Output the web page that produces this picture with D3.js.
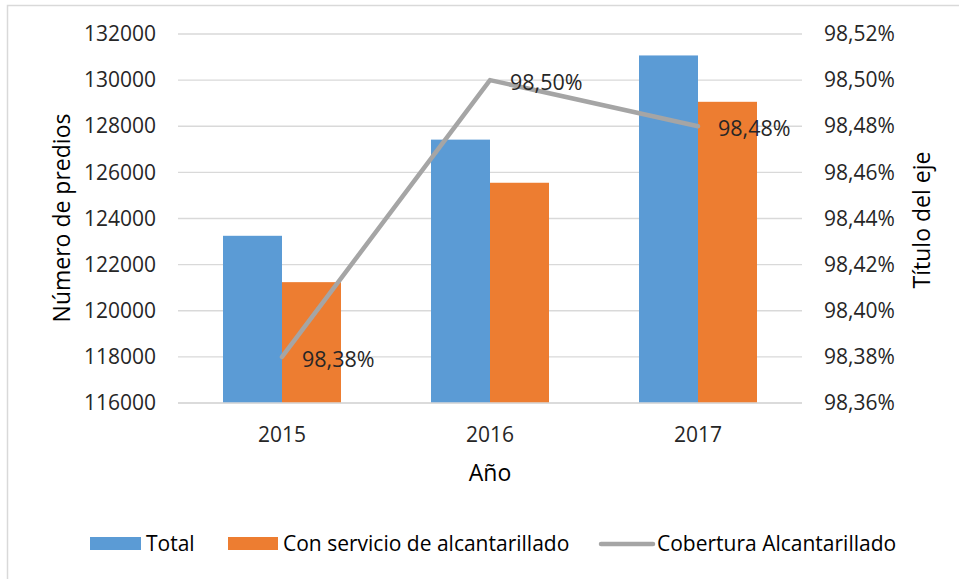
<!DOCTYPE html>
<html>
<head>
<meta charset="utf-8">
<script src="https://cdn.jsdelivr.net/npm/d3@7"></script>
<style>
  html, body { margin: 0; padding: 0; background: #fff; }
  svg { display: block; font-family: "Open Sans", "Noto Sans", sans-serif; }
</style>
</head>
<body>
<svg id="chart" width="959" height="579"></svg>
<script>
// Años y series
const years = ["2015", "2016", "2017"];
const totalPredios = [123250, 127420, 131070];
const conServicio = [121240, 125550, 129060];
const cobertura = [0.9838, 0.9850, 0.9848];
const coberturaLabels = ["98,38%", "98,50%", "98,48%"];
const leftTicks = [116000, 118000, 120000, 122000, 124000, 126000, 128000, 130000, 132000];
const rightTicks = [0.9836, 0.9838, 0.9840, 0.9842, 0.9844, 0.9846, 0.9848, 0.9850, 0.9852];
const seriesNames = ["Total", "Con servicio de alcantarillado", "Cobertura Alcantarillado"];

const colors = { total: "#5B9BD5", servicio: "#ED7D31", cobertura: "#A5A5A5" };
const textColor = "#262626";
const gridColor = "#D9D9D9";

const svg = d3.select("#chart");

// Marco exterior del gráfico
svg.append("rect")
  .attr("x", 7.5).attr("y", 5.5)
  .attr("width", 1000).attr("height", 1000)
  .attr("fill", "none").attr("stroke", gridColor).attr("stroke-width", 1.5);

const plot = { left: 178, right: 802, top: 34, bottom: 403 };

const pad = 90 / 208;
const x0 = d3.scaleBand().domain(years)
  .range([plot.left, plot.right])
  .paddingInner(pad).paddingOuter(pad / 2);
const x1 = d3.scaleBand().domain(["total", "servicio"]).range([0, x0.bandwidth()]);

const yL = d3.scaleLinear().domain([116000, 132000]).range([plot.bottom, plot.top]);
const yR = d3.scaleLinear().domain([0.9836, 0.9852]).range([plot.bottom, plot.top]);

// Líneas de cuadrícula
svg.append("g")
  .selectAll("line").data(leftTicks).join("line")
  .attr("x1", plot.left).attr("x2", plot.right)
  .attr("y1", d => yL(d)).attr("y2", d => yL(d))
  .attr("stroke", gridColor).attr("stroke-width", 1.3);

// Eje izquierdo
const fmtL = d3.format("d");
const axisL = svg.append("g")
  .attr("transform", `translate(${plot.left - 22},0)`)
  .call(d3.axisLeft(yL).tickValues(leftTicks).tickFormat(fmtL).tickSize(0).tickPadding(0));
axisL.select(".domain").remove();
axisL.selectAll("text")
  .attr("fill", textColor).style("font-size", "21px")
  .style("font-family", "'Open Sans', sans-serif");

// Eje derecho
const fmtR = d => (d * 100).toFixed(2).replace(".", ",") + "%";
const axisR = svg.append("g")
  .attr("transform", `translate(${plot.right + 22},0)`)
  .call(d3.axisRight(yR).tickValues(rightTicks).tickFormat(fmtR).tickSize(0).tickPadding(0));
axisR.select(".domain").remove();
axisR.selectAll("text")
  .attr("fill", textColor).style("font-size", "21px")
  .style("font-family", "'Open Sans', sans-serif");

// Barras
const rows = years.map((y, i) => ({ year: y, total: totalPredios[i], servicio: conServicio[i] }));
const groups = svg.append("g").selectAll("g").data(rows).join("g")
  .attr("transform", d => `translate(${x0(d.year)},0)`);
groups.selectAll("rect")
  .data(d => ["total", "servicio"].map(k => ({ key: k, value: d[k] })))
  .join("rect")
  .attr("x", d => x1(d.key))
  .attr("width", x1.bandwidth())
  .attr("y", d => yL(d.value))
  .attr("height", d => yL(116000) - yL(d.value))
  .attr("fill", d => colors[d.key]);

// Eje X (línea base y etiquetas)
const axisX = svg.append("g")
  .attr("transform", `translate(0,${plot.bottom})`)
  .call(d3.axisBottom(x0).tickSize(0).tickPadding(0));
axisX.select(".domain")
  .attr("d", `M${plot.left},0H${plot.right}`)
  .attr("stroke", gridColor).attr("stroke-width", 1.5);
axisX.selectAll("text")
  .attr("y", 0).attr("dy", null)
  .attr("transform", "translate(0,39)")
  .attr("fill", textColor).style("font-size", "21px")
  .style("font-family", "'Open Sans', sans-serif");

// Línea de cobertura
const pts = years.map((y, i) => ({ year: y, v: cobertura[i], label: coberturaLabels[i] }));
const cx = d => x0(d.year) + x0.bandwidth() / 2;
svg.append("path")
  .datum(pts)
  .attr("d", d3.line().x(cx).y(d => yR(d.v)))
  .attr("fill", "none").attr("stroke", colors.cobertura)
  .attr("stroke-width", 4.5).attr("stroke-linejoin", "round").attr("stroke-linecap", "round");

svg.append("g").selectAll("text").data(pts).join("text")
  .attr("x", d => cx(d) + 20)
  .attr("y", d => yR(d.v) + 10)
  .attr("fill", textColor).style("font-size", "21.5px")
  .text(d => d.label);

// Títulos de ejes
svg.append("text")
  .attr("transform", `translate(70,218) rotate(-90)`)
  .attr("text-anchor", "middle")
  .attr("fill", "#000").style("font-size", "23px")
  .text("Número de predios");

svg.append("text")
  .attr("transform", `translate(930,220) rotate(-90)`)
  .attr("text-anchor", "middle")
  .attr("fill", "#000").style("font-size", "23px")
  .text("Título del eje");

svg.append("text")
  .attr("x", 490).attr("y", 481)
  .attr("text-anchor", "middle")
  .attr("fill", "#000").style("font-size", "23px")
  .text("Año");

// Leyenda
const legend = svg.append("g");
const legY = 544;
legend.append("rect").attr("x", 90).attr("y", legY - 7).attr("width", 51).attr("height", 13).attr("fill", colors.total);
legend.append("rect").attr("x", 228).attr("y", legY - 7).attr("width", 50).attr("height", 13).attr("fill", colors.servicio);
legend.append("line").attr("x1", 601).attr("x2", 653).attr("y1", legY).attr("y2", legY)
  .attr("stroke", colors.cobertura).attr("stroke-width", 4.5).attr("stroke-linecap", "round");
const legX = [146, 283, 657];
legend.selectAll("text").data(seriesNames).join("text")
  .attr("x", (d, i) => legX[i]).attr("y", legY + 7)
  .attr("fill", "#000").style("font-size", "21px")
  .text(d => d);
</script>
</body>
</html>
